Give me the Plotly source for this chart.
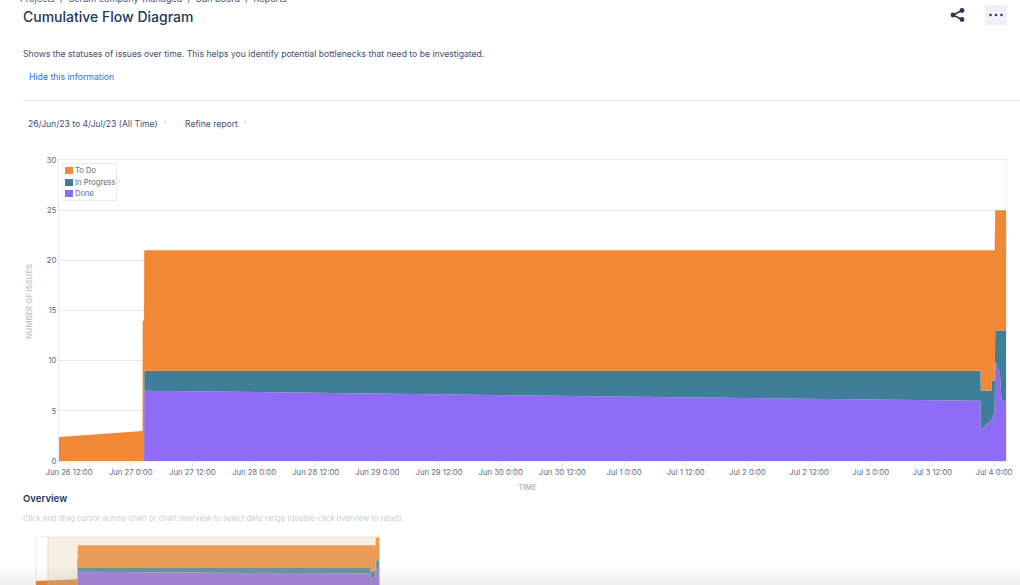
import plotly.graph_objects as go

W, H = 1020, 585

# data
times = ["2023-06-26 03:25", "2023-06-27 02:18", "2023-06-27 02:20", "2023-06-27 02:36", "2023-06-27 02:38",
         "2023-07-03 21:24", "2023-07-03 21:26", "2023-07-03 23:30", "2023-07-03 23:32",
         "2023-07-04 00:07", "2023-07-04 00:15", "2023-07-04 01:08", "2023-07-04 01:28",
         "2023-07-04 02:20"]
done = [0, 0, 0, 0, 7, 6, 3.1, 4.1, 4.1, 5, 9.9, 8.8, 6, 6]
in_progress = [0, 0, 0, 0, 2, 3, 3.9, 2.9, 3.9, 3, 3.1, 4.2, 7, 7]
to_do = [2.15, 3, 14, 14, 12, 12, 14, 14, 13, 13, 12, 12, 12, 12]

tick_vals = ["2023-06-26 12:00", "2023-06-27 00:00", "2023-06-27 12:00", "2023-06-28 00:00",
             "2023-06-28 12:00", "2023-06-29 00:00", "2023-06-29 12:00", "2023-06-30 00:00",
             "2023-06-30 12:00", "2023-07-01 00:00", "2023-07-01 12:00", "2023-07-02 00:00",
             "2023-07-02 12:00", "2023-07-03 00:00", "2023-07-03 12:00", "2023-07-04 00:00"]
tick_text = ["Jun 26 12:00", "Jun 27 0:00", "Jun 27 12:00", "Jun 28 0:00",
             "Jun 28 12:00", "Jun 29 0:00", "Jun 29 12:00", "Jun 30 0:00",
             "Jun 30 12:00", "Jul 1 0:00", "Jul 1 12:00", "Jul 2 0:00",
             "Jul 2 12:00", "Jul 3 0:00", "Jul 3 12:00", "Jul 4 0:00"]
y_ticks = [0, 5, 10, 15, 20, 25, 30]

ORANGE = "#F08836"
TEAL = "#3F7E99"
PURPLE = "#8F6CF6"
FONT = "Inter, Liberation Sans, sans-serif"
DARK = "#253858"
GREY = "#5E6C84"
BODY = "#42526E"
SEP = " \u00a0/\u00a0 "


def px(x):
    return x / W


def py(y):
    return 1 - y / H


def label(x, y, text, size, color=DARK, xanchor="left", weight=400, **kw):
    return dict(x=px(x), y=py(y), xref="paper", yref="paper", text=text, showarrow=False,
                xanchor=xanchor, yanchor="middle",
                font=dict(size=size, color=color, family=FONT, weight=weight),
                borderpad=0, **kw)


def rect(x0, y0, x1, y1, fill, line="rgba(0,0,0,0)", layer="below", lw=1):
    return dict(type="rect", xref="paper", yref="paper", x0=px(x0), x1=px(x1), y0=py(y0), y1=py(y1),
                fillcolor=fill, line=dict(color=line, width=lw), layer=layer)


def seg(x0, y0, x1, y1, color, lw=1.0):
    return dict(type="line", xref="paper", yref="paper", x0=px(x0), x1=px(x1), y0=py(y0), y1=py(y1),
                line=dict(color=color, width=lw), layer="below")


def dot(cx, cy, r, color):
    return dict(type="circle", xref="paper", yref="paper", x0=px(cx - r), x1=px(cx + r),
                y0=py(cy + r), y1=py(cy - r), fillcolor=color, line=dict(width=0), layer="below")


fig = go.Figure()
for name, vals, col in [("Done", done, PURPLE), ("In Progress", in_progress, TEAL), ("To Do", to_do, ORANGE)]:
    fig.add_trace(go.Scatter(x=times, y=vals, name=name, mode="lines", stackgroup="main",
                             line=dict(width=0, color=col), fillcolor=col, showlegend=False,
                             xaxis="x", yaxis="y"))
    fig.add_trace(go.Scatter(x=times, y=vals, name=name, mode="lines", stackgroup="over",
                             line=dict(width=0, color=col), fillcolor=col, showlegend=False,
                             xaxis="x2", yaxis="y2", hoverinfo="skip"))

shapes = [
    seg(22, 100.5, 1020, 100.5, "#EBECF0"),
    # share icon
    seg(953, 15, 962, 10.5, DARK, 1.4), seg(953, 15, 962, 19.5, DARK, 1.4),
    dot(953, 15, 2.4, DARK), dot(962, 10.5, 2.4, DARK), dot(962, 19.5, 2.4, DARK),
    # more button
    rect(985, 5, 1007, 25, "#F0F1F4"),
    dot(990.5, 15, 1.3, DARK), dot(996, 15, 1.3, DARK), dot(1001.5, 15, 1.3, DARK),
    # legend box
    rect(62.5, 163.5, 116.5, 200.5, "#FFFFFF", "#EBECF0", "above"),
    rect(65, 167, 73, 174, ORANGE, layer="above"),
    rect(65, 179, 73, 186, TEAL, layer="above"),
    rect(65, 190, 73, 197, PURPLE, layer="above"),
    # overview brush
    rect(48, 537, 379.5, 586, "rgba(221,201,165,0.3)", "rgba(221,201,165,0.5)", "above"),
    seg(36, 537, 48, 537, "#EBECF0"), seg(36, 537, 36, 585, "#EBECF0"),
]
# window shadow at the very bottom
for i in range(8):
    shapes.append(rect(0, 565 + i * 2.5, W, 585, "rgba(120,120,120,0.012)", layer="above"))

annotations = [
    label(19, -1.5, "Projects" + SEP + "Scrum company-managed" + SEP + "Sun board" + SEP + "Reports", 9.1, BODY),
    label(22, 16.5, "Cumulative Flow Diagram", 14, weight=500),
    label(22, 54, "Shows the statuses of issues over time. This helps you identify potential bottlenecks that need to be investigated.", 8.65, BODY),
    label(28, 77.5, "Hide this information", 8.7, "#2F6FE4"),
    label(27, 124, "26/Jun/23 to 4/Jul/23 (All Time)", 8.6, BODY),
    label(163, 122, "▾", 5, "#C1C7D0"),
    label(183.5, 124, "Refine report", 8.6, BODY),
    label(243, 122, "▾", 5, "#C1C7D0"),
    label(74, 170.5, "To Do", 7.6, GREY),
    label(74, 182, "In Progress", 7.6, GREY),
    label(74, 193.5, "Done", 7.6, GREY),
    label(527, 487.5, "TIME", 7.6, "#B3BAC5", xanchor="center", weight=600),
    label(29, 302, "NUMBER OF ISSUES", 7.7, "#C1C7D0", xanchor="center", weight=600, textangle=-90),
    label(22, 498.5, "Overview", 9.6, DARK, weight=600),
    label(22, 518, "Click and drag cursor across chart or chart overview to select date range (double-click overview to reset).", 7.6, "#C8CDD6"),
]

fig.update_layout(
    width=W, height=H, autosize=False, margin=dict(l=0, r=0, t=0, b=0, autoexpand=False),
    paper_bgcolor="#FFFFFF", plot_bgcolor="#FFFFFF", showlegend=False,
    font=dict(family=FONT, color=GREY, size=9),
    shapes=shapes, annotations=annotations,
    xaxis=dict(domain=[px(59), px(1006)], range=["2023-06-26 10:03", "2023-07-04 02:20"],
               anchor="y", tickvals=tick_vals, ticktext=tick_text, tickangle=0,
               ticks="outside", ticklen=4, tickcolor="#DFE1E6",
               tickfont=dict(size=7.7, color=GREY), showgrid=False, zeroline=False,
               showline=True, linecolor="#EBECF0", mirror=True),
    yaxis=dict(domain=[py(461), py(160)], range=[0, 30], anchor="x", tickvals=y_ticks,
               tickfont=dict(size=7.9, color=GREY), gridcolor="#E6E7EA", gridwidth=1, zeroline=False,
               showline=True, linecolor="#EBECF0", ticks="", mirror=True),
    xaxis2=dict(domain=[px(36), px(379.5)], range=["2023-06-26 03:25", "2023-07-04 02:20"],
                anchor="y2", visible=False),
    yaxis2=dict(domain=[0, py(537)], range=[0, 25.3], anchor="x2", visible=False),
)

fig.write_html("out.html", config={"displayModeBar": False},
               post_script="document.body.style.margin='0';document.body.style.overflow='hidden';")
